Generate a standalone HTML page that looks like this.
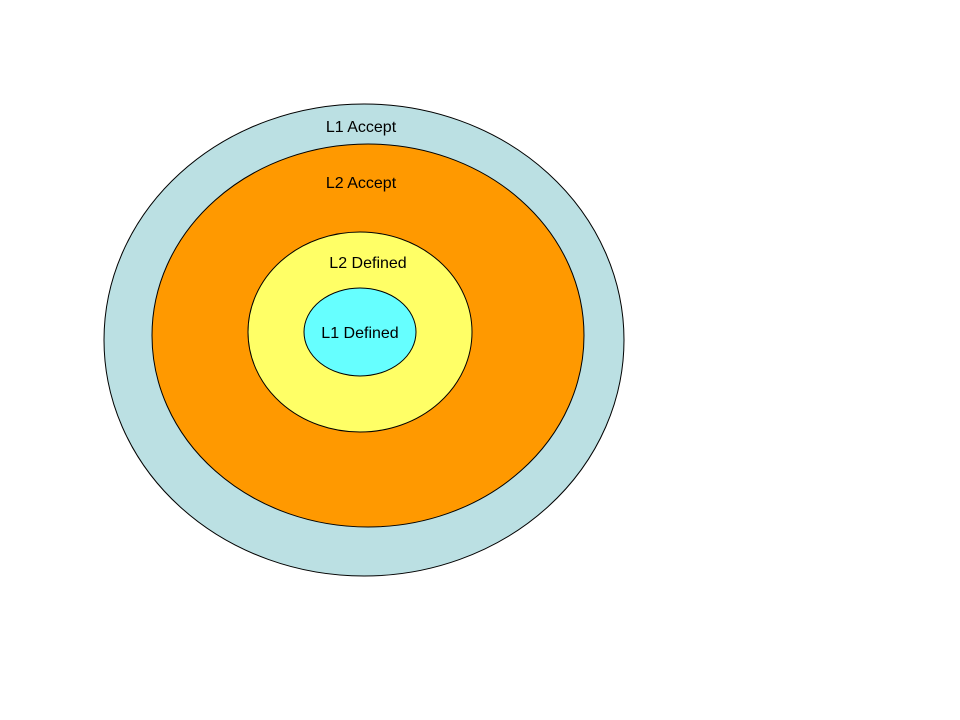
<!DOCTYPE html>
<html><head><meta charset="utf-8"><style>
html,body{margin:0;padding:0;background:#fff;width:960px;height:720px;overflow:hidden}
svg text{font-family:"Liberation Sans",Arial,sans-serif;font-size:16px;fill:#000}
</style></head><body>
<svg width="960" height="720" viewBox="0 0 960 720" xmlns="http://www.w3.org/2000/svg">
<ellipse cx="364" cy="340" rx="260" ry="236" fill="#BBE0E3" stroke="#000" stroke-width="1"/>
<ellipse cx="368" cy="335.5" rx="216" ry="191.5" fill="#FF9900" stroke="#000" stroke-width="1"/>
<ellipse cx="360" cy="332" rx="112" ry="100" fill="#FFFF66" stroke="#000" stroke-width="1"/>
<ellipse cx="360" cy="332" rx="56" ry="44" fill="#66FFFF" stroke="#000" stroke-width="1"/>
<text x="361" y="132" text-anchor="middle">L1 Accept</text>
<text x="361" y="188" text-anchor="middle">L2 Accept</text>
<text x="368" y="268" text-anchor="middle">L2 Defined</text>
<text x="360" y="338" text-anchor="middle">L1 Defined</text>
</svg>
</body></html>
